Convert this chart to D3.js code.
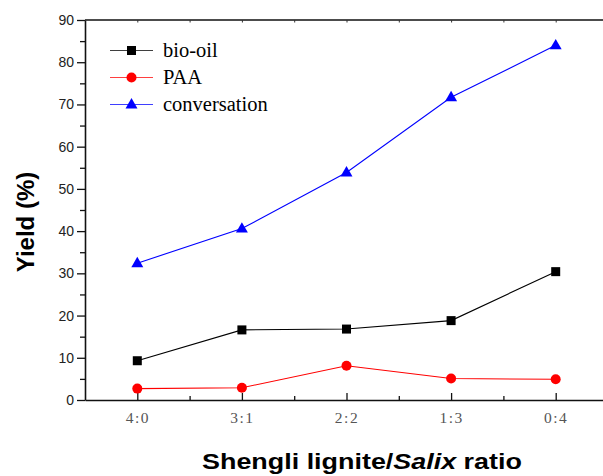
<!DOCTYPE html>
<html><head><meta charset="utf-8">
<script src="https://cdn.jsdelivr.net/npm/d3@7"></script>
<style>body{margin:0;background:#fff}svg{display:block}</style>
</head><body>
<svg id="c" width="603" height="476"></svg>
<script>
const categories = ["4:0","3:1","2:2","1:3","0:4"];
const bioOil = [9.3, 16.6, 16.8, 18.8, 30.4];
const paa = [2.7, 2.9, 8.1, 5.1, 4.9];
const conversation = [32.4, 40.6, 53.9, 71.7, 84.0];
const yTicks = [0,10,20,30,40,50,60,70,80,90];
const seriesNames = ["bio-oil","PAA","conversation"];
const seriesColors = ["#000000","#ff0000","#0000ff"];
const seriesShapes = ["square","circle","triangle"];

const svg = d3.select("#c");
const L = 85, R = 608, T = 20, B = 400;
const x = d3.scaleLinear().domain([0.5, categories.length + 0.5]).range([L, R]);
const y = d3.scaleLinear().domain([0, 90]).range([B, T]);
const idx = categories.map((c,i)=>i+1);

// frame top
svg.append("line").attr("x1",L).attr("x2",R).attr("y1",T).attr("y2",T)
  .attr("stroke","#111").attr("stroke-width",1.6);

// bottom axis major
const gx = svg.append("g").attr("transform",`translate(0,${B})`)
  .call(d3.axisBottom(x).tickValues(idx).tickFormat((d,i)=>categories[i]).tickSizeInner(-7).tickSizeOuter(0).tickPadding(12));
gx.select(".domain").attr("stroke","#111").attr("stroke-width",1.6);
gx.selectAll(".tick line").attr("stroke","#111").attr("stroke-width",1.3);
gx.selectAll(".tick text").attr("font-family","'Liberation Serif',serif").attr("font-size",15.5)
  .attr("fill","#555").attr("letter-spacing","1.5px");
// bottom minor
const minorX = idx.map(d=>d+0.5);
svg.append("g").attr("transform",`translate(0,${B})`)
  .call(d3.axisBottom(x).tickValues(minorX).tickFormat("").tickSizeInner(-4).tickSizeOuter(0))
  .call(g=>g.select(".domain").remove())
  .selectAll(".tick line").attr("stroke","#111").attr("stroke-width",1.3);
// top ticks
svg.append("g").attr("transform",`translate(0,${T})`)
  .call(d3.axisTop(x).tickValues(idx.concat(minorX)).tickFormat("").tickSizeInner(-2.5).tickSizeOuter(0))
  .call(g=>g.select(".domain").remove())
  .selectAll(".tick line").attr("stroke","#333").attr("stroke-width",1);

// left axis
const gy = svg.append("g").attr("transform",`translate(${L},0)`)
  .call(d3.axisLeft(y).tickValues(yTicks).tickSizeInner(8).tickSizeOuter(0).tickPadding(3));
gy.select(".domain").attr("stroke","#111").attr("stroke-width",1.6);
gy.selectAll(".tick line").attr("stroke","#111").attr("stroke-width",1.3);
gy.selectAll(".tick text").attr("font-family","'Liberation Sans',Arial,sans-serif").attr("font-size",14).attr("fill","#222");
svg.append("g").attr("transform",`translate(${L},0)`)
  .call(d3.axisLeft(y).tickValues(yTicks.slice(0,-1).map(d=>d+5)).tickFormat("").tickSizeInner(5).tickSizeOuter(0))
  .call(g=>g.select(".domain").remove())
  .selectAll(".tick line").attr("stroke","#111").attr("stroke-width",1.3);

// axis titles
svg.append("text").attr("transform","translate(34,222) rotate(-90)").attr("text-anchor","middle")
  .attr("font-family","'Liberation Sans',Arial,sans-serif").attr("font-weight","bold").attr("font-size",24)
  .attr("fill","#000").text("Yield (%)");
const xg = svg.append("g");
const xt = xg.append("text").attr("x",0).attr("y",0).attr("text-anchor","start")
  .attr("font-family","'Liberation Sans',Arial,sans-serif").attr("font-weight","bold").attr("font-size",22.5).attr("fill","#000");
xt.append("tspan").text("Shengli lignite/");
xt.append("tspan").attr("font-style","italic").text("Salix");
xt.append("tspan").text(" ratio");
const w0 = xt.node().getComputedTextLength();
const targetW = 320;
xg.attr("transform",`translate(202,469) scale(${targetW/w0},1)`);

function marker(g, shape, color, cx, cy){
  if(shape==="square") g.append("rect").attr("x",cx-4.5).attr("y",cy-4.5).attr("width",9).attr("height",9).attr("fill",color);
  else if(shape==="circle") g.append("circle").attr("cx",cx).attr("cy",cy).attr("r",5).attr("fill",color);
  else g.append("path").attr("d",d3.symbol().type(d3.symbolTriangle).size(62)()).attr("transform",`translate(${cx},${cy+0.5})`).attr("fill",color);
}

const allSeries = [bioOil, paa, conversation];
const line = d3.line().x((d,i)=>x(i+1)).y(d=>y(d));
allSeries.forEach((vals,s)=>{
  svg.append("path").datum(vals).attr("d",line).attr("fill","none")
    .attr("stroke",seriesColors[s]).attr("stroke-width",1.1);
  const g = svg.append("g");
  vals.forEach((v,i)=>marker(g, seriesShapes[s], seriesColors[s], x(i+1), y(v)));
});

// legend
const legY = [50.5, 77.5, 104.5];
seriesNames.forEach((n,s)=>{
  const g = svg.append("g");
  g.append("line").attr("x1",110).attr("x2",153).attr("y1",legY[s]).attr("y2",legY[s])
    .attr("stroke",seriesColors[s]).attr("stroke-width",1).attr("opacity",0.75);
  marker(g, seriesShapes[s], seriesColors[s], 131.5, legY[s]);
  g.append("text").attr("x",163).attr("y",legY[s]+6.5).attr("font-family","'Liberation Serif','Times New Roman',serif")
    .attr("font-size",20.5).attr("fill","#000").text(n);
});
</script>
</body></html>
